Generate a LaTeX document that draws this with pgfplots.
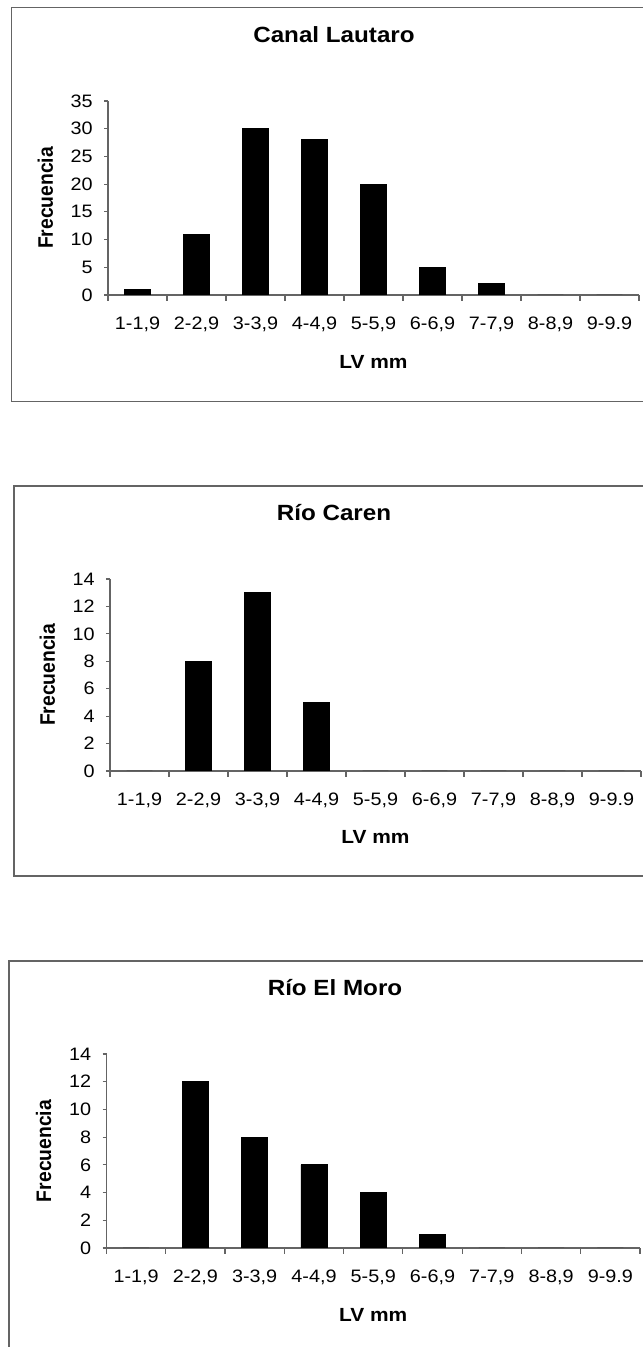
\documentclass[border=0pt]{standalone}
\usepackage{fontspec}
\setmainfont{Liberation Sans}[FakeStretch=1.1]
\newfontfamily\rotfont{Liberation Sans}[FakeStretch=0.92]
\usepackage{pgfplots}
\pgfplotsset{compat=1.18}
\definecolor{framegray}{RGB}{100,100,100}
\definecolor{axisgray}{RGB}{100,100,100}
\pgfplotsset{
 histo/.style={
  scale only axis,
  width=265.5pt, height=97pt,
  ybar, bar width=0.44,
  xmin=0.5, xmax=9.5, ymin=0,
  axis x line=bottom, axis y line=left,
  axis line style={-, draw=axisgray, line width=0.6pt},
  xtick={1,...,9},
  xticklabels={{1-1,9},{2-2,9},{3-3,9},{4-4,9},{5-5,9},{6-6,9},{7-7,9},{8-8,9},{9-9.9}},
  major x tick style={draw=none},
  minor xtick={0.5,1.5,...,9.5},
  tick align=outside,
  major tick length=2pt, minor tick length=2.8pt,
  every tick/.style={draw=axisgray, line width=0.6pt},
  tick label style={font=\fontsize{9}{10}\selectfont, inner sep=0pt},
  /pgf/number format/assume math mode=true,
  xticklabel style={anchor=north, yshift=-8.6pt},
  yticklabel style={anchor=east, xshift=-5.5pt},
  xlabel={LV mm}, ylabel={Frecuencia},
  xlabel style={font=\fontsize{9.5}{11}\selectfont\bfseries, at={(axis description cs:0.5,-0.345)}, anchor=center},
  ylabel style={font=\fontsize{10.5}{12}\rotfont\bfseries, at={(axis description cs:-0.118,0.5)}, anchor=center},
 },
 bars/.style={fill=black, draw=black}
}
\begin{document}
\begin{tikzpicture}
\useasboundingbox (0,0) rectangle (321pt,673.5pt);
% frames
\draw[framegray, line width=0.6pt] (322pt,669.85pt) -- (5.85pt,669.85pt) -- (5.85pt,472.65pt) -- (322pt,472.65pt);
\draw[framegray, line width=0.6pt] (322pt,430.5pt) -- (7pt,430.5pt) -- (7pt,235.5pt) -- (322pt,235.5pt);
\draw[framegray, line width=0.6pt] (322pt,193pt) -- (4.5pt,193pt) -- (4.5pt,-1pt);
% titles
\node[font=\fontsize{11}{13}\selectfont\bfseries] at (167pt,656pt) {Canal Lautaro};
\node[font=\fontsize{11}{13}\selectfont\bfseries] at (167pt,417pt) {Río Caren};
\node[font=\fontsize{11}{13}\selectfont\bfseries] at (167.5pt,179.5pt) {Río El Moro};

\begin{axis}[histo, at={(54pt,526pt)}, anchor=south west, ymax=35, ytick={0,5,...,35}]
\addplot[bars] coordinates {(1,1) (2,11) (3,30) (4,28) (5,20) (6,5) (7,2) (8,0) (9,0)};
\end{axis}

\begin{axis}[histo, height=96pt, at={(55pt,288pt)}, anchor=south west, ymax=14, ytick={0,2,...,14}]
\addplot[bars] coordinates {(1,0) (2,8) (3,13) (4,5) (5,0) (6,0) (7,0) (8,0) (9,0)};
\end{axis}

\begin{axis}[histo, width=266.75pt, at={(53.25pt,49.5pt)}, anchor=south west, ymax=14, ytick={0,2,...,14}]
\addplot[bars] coordinates {(1,0) (2,12) (3,8) (4,6) (5,4) (6,1) (7,0) (8,0) (9,0)};
\end{axis}
\end{tikzpicture}
\end{document}
